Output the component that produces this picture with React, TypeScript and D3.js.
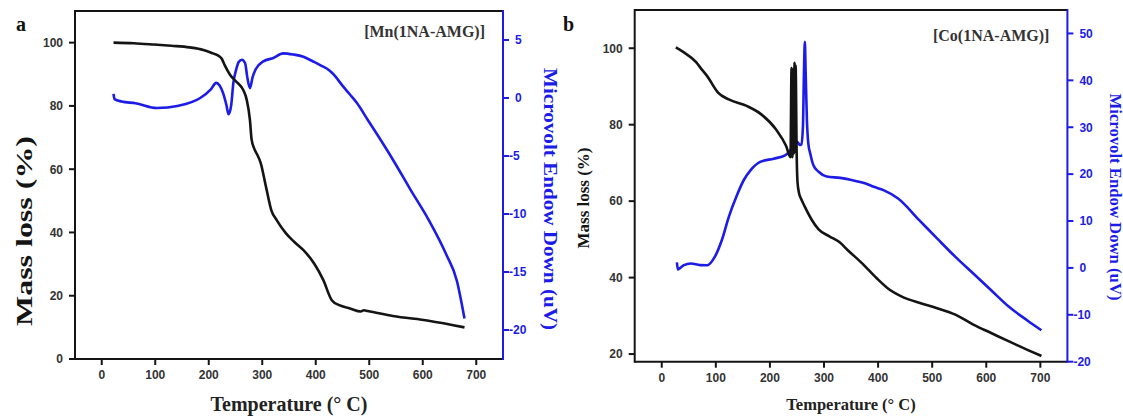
import React from "react";
import * as d3 from "d3";

const W = 1123;
const H = 419;
const BLUE = "#1c1ce6";
const INK = "#141414";
const LABEL = "#333333";
const SERIF = "'Liberation Serif', 'Times New Roman', serif";
const SANS = "'Liberation Sans', Arial, sans-serif";

// ---- Panel a: [Mn(1NA-AMG)] ----
const mnMassTemp = [22, 60, 97, 130, 164, 190, 208, 217, 224, 230, 240, 252, 261, 266, 271, 277, 280, 285, 290, 297, 307, 317, 327, 344, 360, 377, 397, 414, 430, 444, 464, 484, 490, 497, 544, 611, 678];
const mnMass = [100, 99.8, 99.4, 99.0, 98.5, 97.7, 96.6, 96.0, 95.0, 92.8, 89.8, 87.6, 86.0, 84.5, 81.9, 75.5, 69.5, 66.5, 64.8, 62.0, 54.4, 47.0, 43.9, 39.8, 37.0, 34.4, 30.2, 25.0, 18.6, 17.0, 16.0, 15.0, 15.4, 15.2, 13.6, 12.1, 10.0];
const mnDtaTemp = [22, 24, 37, 63, 103, 144, 184, 204, 214, 220, 227, 233, 237, 242, 246, 251, 256, 262, 268, 272, 277, 282, 288, 302, 321, 339, 358, 377, 395, 410, 425, 433, 451, 464, 477, 497, 517, 544, 577, 611, 644, 664, 671, 678];
const mnDta = [0.35, -0.1, -0.3, -0.45, -0.86, -0.66, 0.0, 0.75, 1.3, 1.1, 0.4, -0.6, -1.4, -0.6, 1.3, 2.4, 3.1, 3.3, 3.0, 1.8, 0.85, 1.8, 2.5, 3.16, 3.45, 3.85, 3.75, 3.55, 3.15, 2.8, 2.4, 2.05, 1.0, 0.3, -0.43, -1.87, -3.3, -5.3, -7.9, -10.5, -13.5, -15.8, -17.3, -19.0];

// ---- Panel b: [Co(1NA-AMG)] ----
const coMassTemp = [26, 41, 64, 72, 84, 104, 124, 157, 184, 211, 230, 238, 240, 241.5, 243, 244.5, 245.5, 246.5, 247.5, 249.5, 251, 254, 258, 264, 277, 290, 310, 330, 343, 370, 397, 417, 443, 476, 509, 543, 576, 609, 642, 676, 702];
const coMass = [100.2, 98.9, 96.3, 94.8, 92.7, 88.4, 86.6, 84.9, 82.7, 78.8, 74.4, 71.5, 94.8, 71.5, 94.5, 72.5, 96.2, 73, 95.5, 72, 65, 62, 60.5, 58.7, 55.2, 52.6, 50.8, 49.1, 47.3, 43.8, 39.9, 37.3, 35.1, 33.4, 32.0, 30.3, 27.7, 25.5, 23.3, 21.1, 19.5];
const coDtaTemp = [28, 30, 33, 41, 54, 71, 84, 98, 111, 124, 139, 152, 164, 182, 207, 228, 238, 244, 250, 256, 258, 261, 263, 264.6, 266, 268.4, 271, 274.6, 280, 290, 305, 330, 349, 377, 392, 410, 437, 476, 509, 543, 576, 609, 642, 676, 702];
const coDta = [1.2, -0.35, -0.1, 0.58, 0.93, 0.6, 0.58, 2.35, 5.9, 10.9, 15.5, 18.8, 20.8, 22.6, 23.3, 24.0, 25.1, 26.5, 26.9, 26.2, 26.3, 30, 42, 48.2, 42, 31.5, 26.5, 24.4, 22, 20.5, 19.5, 19.2, 18.8, 18.0, 17.3, 16.6, 14.8, 10.2, 6.3, 2.35, -1.2, -4.75, -8.3, -11.2, -13.3];

// ---- tick values ----
const tempTicks = [0, 100, 200, 300, 400, 500, 600, 700];
const mnMassTicks = [0, 20, 40, 60, 80, 100];
const mnDtaTicks = [-20, -15, -10, -5, 0, 5];
const coMassTicks = [20, 40, 60, 80, 100];
const coDtaTicks = [-20, -10, 0, 10, 20, 30, 40, 50];

type Box = { left: number; right: number; top: number; bottom: number };

type PanelProps = {
  box: Box;
  letter: string;
  letterX: number;
  sample: string;
  sampleY: number;
  massDomain: [number, number];
  dtaDomain: [number, number];
  massTicks: number[];
  dtaTicks: number[];
  massT: number[];
  mass: number[];
  dtaT: number[];
  dta: number[];
  yTitle: { x: number; y: number; size: number; len: number };
  rTitle: { x: number; y: number; size: number; len: number };
  xTitle: { y: number; size: number };
  tickSize: number;
};

function Panel(p: PanelProps) {
  const { box } = p;
  const x = d3.scaleLinear().domain([-50, 750]).range([box.left, box.right]);
  const yL = d3.scaleLinear().domain(p.massDomain).range([box.bottom, box.top]);
  const yR = d3.scaleLinear().domain(p.dtaDomain).range([box.bottom, box.top]);

  const lineL = d3
    .line<number>()
    .x((_, i) => x(p.massT[i]))
    .y((v) => yL(v))
    .curve(d3.curveMonotoneX);
  const lineR = d3
    .line<number>()
    .x((_, i) => x(p.dtaT[i]))
    .y((v) => yR(v))
    .curve(d3.curveMonotoneX);

  const tk = 6;
  const cx = (box.left + box.right) / 2;

  return (
    <g>
      {/* curves */}
      <path d={lineR(p.dta) || ""} fill="none" stroke={BLUE} strokeWidth={2.6} strokeLinejoin="round" />
      <path d={lineL(p.mass) || ""} fill="none" stroke={INK} strokeWidth={2.6} strokeLinejoin="round" />

      {/* frame */}
      <line x1={box.left} x2={box.right} y1={box.top} y2={box.top} stroke={INK} strokeWidth={2} />
      <line x1={box.left} x2={box.right} y1={box.bottom} y2={box.bottom} stroke={INK} strokeWidth={2} />
      <line x1={box.left} x2={box.left} y1={box.top - 1} y2={box.bottom + 1} stroke={INK} strokeWidth={2} />
      <line x1={box.right} x2={box.right} y1={box.top - 1} y2={box.bottom + 1} stroke={BLUE} strokeWidth={2} />

      {/* bottom axis */}
      {tempTicks.map((t) => (
        <g key={"x" + t}>
          <line x1={x(t)} x2={x(t)} y1={box.bottom} y2={box.bottom + tk} stroke={INK} strokeWidth={2} />
          <text x={x(t)} y={box.bottom + 20} textAnchor="middle" fontFamily={SANS} fontWeight="bold" fontSize={p.tickSize} fill={LABEL}>
            {t}
          </text>
        </g>
      ))}

      {/* left axis */}
      {p.massTicks.map((v) => (
        <g key={"l" + v}>
          <line x1={box.left - tk} x2={box.left} y1={yL(v)} y2={yL(v)} stroke={INK} strokeWidth={2} />
          <text x={box.left - 12} y={yL(v)} dy="0.36em" textAnchor="end" fontFamily={SANS} fontWeight="bold" fontSize={p.tickSize} fill={LABEL}>
            {v}
          </text>
        </g>
      ))}

      {/* right axis */}
      {p.dtaTicks.map((v) => (
        <g key={"r" + v}>
          <line x1={box.right} x2={box.right + tk} y1={yR(v)} y2={yR(v)} stroke={BLUE} strokeWidth={2} />
          <text x={box.right + (v < 0 ? 6 : 12)} y={yR(v)} dy="0.36em" textAnchor="start" fontFamily={SANS} fontWeight="bold" fontSize={p.tickSize} fill={BLUE}>
            {v}
          </text>
        </g>
      ))}

      {/* titles */}
      <text
        transform={`translate(${p.yTitle.x},${p.yTitle.y}) rotate(-90)`}
        textAnchor="middle"
        dominantBaseline="central"
        fontFamily={SERIF}
        fontWeight="bold"
        fontSize={p.yTitle.size}
        textLength={p.yTitle.len}
        lengthAdjust="spacingAndGlyphs"
        fill={INK}
      >
        Mass loss (%)
      </text>
      <text
        transform={`translate(${p.rTitle.x},${p.rTitle.y}) rotate(90)`}
        textAnchor="middle"
        dominantBaseline="central"
        fontFamily={SERIF}
        fontWeight="bold"
        fontSize={p.rTitle.size}
        textLength={p.rTitle.len}
        lengthAdjust="spacingAndGlyphs"
        fill={BLUE}
      >
        Microvolt Endow Down (uV)
      </text>
      <text x={cx} y={p.xTitle.y} textAnchor="middle" fontFamily={SERIF} fontWeight="bold" fontSize={p.xTitle.size} fill="#222">
        Temperature (° C)
      </text>
      <text x={p.letterX} y={31} fontFamily={SERIF} fontWeight="bold" fontSize={20} fill="#111">
        {p.letter}
      </text>
      <text x={box.right - 18} y={p.sampleY} textAnchor="end" fontFamily={SERIF} fontWeight="bold" fontSize={16} fill={LABEL}>
        {p.sample}
      </text>
    </g>
  );
}

export default function App() {
  return (
    <svg width={W} height={H} viewBox={`0 0 ${W} ${H}`} style={{ display: "block", position: "absolute", left: 0, top: 0, background: "#fff" }}>
      <rect width={W} height={H} fill="#fff" />
      <Panel
        box={{ left: 75, right: 503, top: 11, bottom: 359 }}
        letter="a"
        letterX={16}
        sample="[Mn(1NA-AMG)]"
        sampleY={37}
        massDomain={[0, 110]}
        dtaDomain={[-22.5, 7.5]}
        massTicks={mnMassTicks}
        dtaTicks={mnDtaTicks}
        massT={mnMassTemp}
        mass={mnMass}
        dtaT={mnDtaTemp}
        dta={mnDta}
        yTitle={{ x: 24, y: 231, size: 23, len: 190 }}
        rTitle={{ x: 550, y: 199, size: 19, len: 262 }}
        xTitle={{ y: 411, size: 20 }}
        tickSize={12}
      />
      <Panel
        box={{ left: 634.7, right: 1067.4, top: 10, bottom: 361.7 }}
        letter="b"
        letterX={563}
        sample="[Co(1NA-AMG)]"
        sampleY={41}
        massDomain={[18, 110]}
        dtaDomain={[-20, 55]}
        massTicks={coMassTicks}
        dtaTicks={coDtaTicks}
        massT={coMassTemp}
        mass={coMass}
        dtaT={coDtaTemp}
        dta={coDta}
        yTitle={{ x: 583, y: 198, size: 17, len: 101 }}
        rTitle={{ x: 1115, y: 197, size: 16, len: 207 }}
        xTitle={{ y: 410, size: 16.5 }}
        tickSize={12}
      />
    </svg>
  );
}
